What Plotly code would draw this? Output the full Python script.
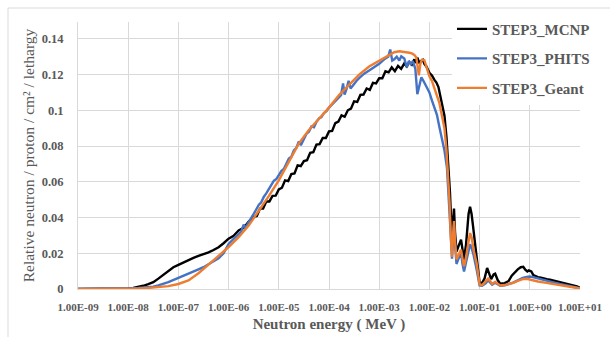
import plotly.graph_objects as go

# ---------------- data ----------------
x_tick_vals = [1e-9, 1e-8, 1e-7, 1e-6, 1e-5, 1e-4, 1e-3, 1e-2, 1e-1, 1e0, 1e1]
x_tick_text = ["1.00E-09", "1.00E-08", "1.00E-07", "1.00E-06", "1.00E-05", "1.00E-04",
               "1.00E-03", "1.00E-02", "1.00E-01", "1.00E+00", "1.00E+01"]
y_tick_vals = [0, 0.02, 0.04, 0.06, 0.08, 0.1, 0.12, 0.14]
y_tick_text = ["0", "0.02", "0.04", "0.06", "0.08", "0.1", "0.12", "0.14"]

series_names = ["STEP3_MCNP", "STEP3_PHITS", "STEP3_Geant"]

# log10 of neutron energy (MeV) and relative flux
mcnp_log_e = [-9.0, -8.5, -8.2, -8.0, -7.9, -7.8, -7.7, -7.6, -7.5, -7.4, -7.3, -7.2, -7.1, -7.0,
              -6.9, -6.8, -6.7, -6.6, -6.5, -6.4, -6.3, -6.2, -6.1, -6.0, -5.9, -5.8, -5.7, -5.6,
              -5.5, -5.4375, -5.375, -5.3125, -5.25, -5.1875, -5.125, -5.0625, -5.0, -4.9375,
              -4.875, -4.8125, -4.75, -4.6875, -4.625, -4.5625, -4.5, -4.4375, -4.375, -4.3125,
              -4.25, -4.1875, -4.125, -4.0625, -4.0, -3.9375, -3.875, -3.8125, -3.75, -3.6875,
              -3.625, -3.5625, -3.5, -3.4375, -3.375, -3.3125, -3.25, -3.1875, -3.125, -3.0625,
              -3.0, -2.9375, -2.875, -2.8125, -2.75, -2.6875, -2.625, -2.5625, -2.5,
              -2.45, -2.4, -2.35, -2.3, -2.27, -2.24, -2.2, -2.17, -2.13, -2.1, -2.06, -2.0,
              -1.95, -1.9, -1.86, -1.82, -1.78, -1.74, -1.70, -1.66, -1.62, -1.59, -1.565,
              -1.545, -1.525, -1.51, -1.49, -1.46, -1.42, -1.37, -1.34, -1.31, -1.27, -1.22,
              -1.19, -1.16, -1.13, -1.09, -1.06, -1.02, -1.0, -0.95, -0.9, -0.85, -0.81, -0.77,
              -0.72, -0.69, -0.64, -0.59, -0.5, -0.42, -0.36, -0.3, -0.24, -0.18, -0.13, -0.09,
              -0.05, -0.02, 0.03, 0.07, 0.12, 0.16, 0.22, 0.28, 0.34, 0.4, 0.47, 0.54, 0.62,
              0.7, 0.78, 0.86, 0.94, 1.0]
mcnp_flux = [0, 0, 0.0001, 0.0003, 0.0006, 0.001, 0.0018, 0.0027, 0.0038, 0.0058, 0.008, 0.0102,
             0.0122, 0.0135, 0.0148, 0.0165, 0.0174, 0.0185, 0.0194, 0.0205, 0.0218, 0.0234,
             0.0256, 0.0282, 0.0298, 0.0328, 0.0342, 0.0378,
             0.0403, 0.0408, 0.0450, 0.0450, 0.0490, 0.0490, 0.0521, 0.0522, 0.0557, 0.0567,
             0.0608, 0.0604, 0.0643, 0.0647, 0.0692, 0.0688, 0.0716, 0.0721, 0.0762, 0.0765,
             0.0808, 0.0811, 0.0845, 0.0845, 0.0882, 0.0885, 0.0928, 0.0937, 0.0972, 0.0964,
             0.1000, 0.1009, 0.1050, 0.1047, 0.1086, 0.1088, 0.1122, 0.1114, 0.1153, 0.1150,
             0.1180, 0.1179, 0.1218, 0.1212, 0.1240, 0.1219, 0.1248, 0.1232, 0.1262,
             0.1245, 0.1270, 0.1255, 0.1285, 0.1265, 0.1295, 0.1262, 0.1275, 0.1282, 0.1260,
             0.1245, 0.1210, 0.1195, 0.1170, 0.1155, 0.1130, 0.1080, 0.1020, 0.0970, 0.0850,
             0.0680, 0.0540, 0.0360, 0.0260, 0.0400, 0.0450, 0.0320, 0.0210, 0.0240, 0.0276,
             0.0220, 0.0165, 0.0250, 0.0420, 0.0460, 0.0420, 0.0350, 0.0250, 0.0165, 0.0070,
             0.0035, 0.0033, 0.0060, 0.0118, 0.0090, 0.0055, 0.0082, 0.0086, 0.0050, 0.0030,
             0.0033, 0.0045, 0.0075, 0.0095, 0.0110, 0.0122, 0.0124, 0.0108, 0.0098, 0.0104,
             0.0098, 0.0078, 0.0072, 0.0066, 0.0064, 0.0058, 0.0055, 0.0052, 0.0047, 0.0043,
             0.0038, 0.0032, 0.0027, 0.0021, 0.0015, 0.0006]

phits_log_e = [-9.0, -8.5, -8.2, -8.0, -7.8, -7.6, -7.5, -7.4, -7.2, -7.0, -6.9, -6.8, -6.7,
               -6.6, -6.5, -6.4, -6.3, -6.2, -6.1, -6.0, -5.9, -5.8, -5.75, -5.7, -5.66, -5.6,
               -5.55, -5.5, -5.45, -5.4, -5.35, -5.3, -5.25, -5.2, -5.15, -5.1, -5.05, -5.0,
               -4.95, -4.9, -4.85, -4.8, -4.75, -4.7, -4.65, -4.6, -4.56, -4.5, -4.45, -4.4,
               -4.35, -4.3, -4.25, -4.2, -4.15, -4.1, -4.05, -4.0, -3.95, -3.9, -3.85, -3.8,
               -3.76, -3.72, -3.69, -3.65, -3.61, -3.57, -3.5, -3.45, -3.4, -3.3, -3.2, -3.1,
               -3.0, -2.9, -2.82, -2.78, -2.74, -2.7, -2.65, -2.6, -2.56, -2.5, -2.45, -2.41,
               -2.37, -2.33, -2.28, -2.24, -2.2, -2.16, -2.12, -2.05, -2.0, -1.95, -1.9, -1.85,
               -1.8, -1.75, -1.7, -1.65, -1.6, -1.57, -1.55, -1.525, -1.51, -1.49, -1.46, -1.42,
               -1.37, -1.34, -1.31, -1.27, -1.22, -1.19, -1.16, -1.12, -1.06, -1.02, -1.0,
               -0.95, -0.88, -0.83, -0.79, -0.75, -0.69, -0.64, -0.59, -0.5, -0.4, -0.33, -0.24,
               -0.14, -0.06, 0.0, 0.06, 0.16, 0.3, 0.45, 0.6, 0.74, 0.86, 1.0]
phits_flux = [0, 0, 0.0001, 0.0003, 0.0006, 0.0011, 0.0013, 0.0020, 0.0038, 0.0062, 0.0075,
              0.0088, 0.0098, 0.0110, 0.0122, 0.0138, 0.0152, 0.0172, 0.0200, 0.0252, 0.0280,
              0.0310, 0.0320, 0.0360, 0.0342, 0.0375, 0.0395, 0.0420, 0.0445, 0.0470, 0.0485,
              0.0515, 0.0535, 0.0560, 0.0580, 0.0605, 0.0615, 0.0635, 0.0660, 0.0672, 0.0700,
              0.0730, 0.0740, 0.0775, 0.0790, 0.0825, 0.0805, 0.0845, 0.0868, 0.0880, 0.0910,
              0.0905, 0.0935, 0.0955, 0.0962, 0.0985, 0.0995, 0.1015, 0.1030, 0.1045, 0.1060,
              0.1078, 0.1085, 0.1150, 0.1088, 0.1120, 0.1165, 0.1122, 0.1150, 0.1165, 0.1180,
              0.1205, 0.1222, 0.1240, 0.1260, 0.1285, 0.1300, 0.1340, 0.1278, 0.1285, 0.1300,
              0.1278, 0.1302, 0.1290, 0.1240, 0.1275, 0.1258, 0.1275, 0.1232, 0.1090, 0.1135,
              0.1185, 0.1165, 0.1125, 0.1100, 0.1055, 0.1010, 0.0975, 0.0905, 0.0845, 0.0775,
              0.0680, 0.0460, 0.0280, 0.0170, 0.0300, 0.0360, 0.0250, 0.0140, 0.0170, 0.0200,
              0.0140, 0.0098, 0.0150, 0.0220, 0.0250, 0.0230, 0.0190, 0.0110, 0.0050, 0.0020,
              0.0018, 0.0032, 0.0048, 0.0038, 0.0024, 0.0035, 0.0028, 0.0018, 0.0020, 0.0027,
              0.0036, 0.0048, 0.0062, 0.0068, 0.0070, 0.0066, 0.0058, 0.0048, 0.0038, 0.0028,
              0.0020, 0.0013, 0.0004]

geant_log_e = [-9.0, -8.5, -8.2, -8.0, -7.8, -7.6, -7.4, -7.2, -7.0, -6.8, -6.6, -6.4, -6.2,
               -6.0, -5.8, -5.6, -5.4, -5.2, -5.0, -4.8, -4.6, -4.4, -4.2, -4.0, -3.8, -3.6,
               -3.4, -3.2, -3.0, -2.9, -2.8, -2.7, -2.6, -2.5, -2.4, -2.35, -2.3, -2.26, -2.23,
               -2.21, -2.18, -2.15, -2.1, -2.05, -2.0, -1.95, -1.9, -1.85, -1.8, -1.75, -1.7,
               -1.66, -1.63, -1.6, -1.575, -1.55, -1.525, -1.51, -1.49, -1.46, -1.42, -1.37,
               -1.34, -1.31, -1.27, -1.22, -1.19, -1.16, -1.12, -1.06, -1.02, -1.0, -0.95,
               -0.88, -0.83, -0.79, -0.75, -0.69, -0.64, -0.59, -0.5, -0.4, -0.33, -0.24,
               -0.14, -0.06, 0.0, 0.06, 0.16, 0.3, 0.45, 0.6, 0.74, 0.86, 1.0]
geant_flux = [0, 0, 0.0001, 0.0002, 0.0003, 0.0006, 0.0010, 0.0016, 0.0028, 0.0048, 0.0088,
              0.0135, 0.0185, 0.0235, 0.0290, 0.0355, 0.0435, 0.0520, 0.0608, 0.0715, 0.0815,
              0.0890, 0.0950, 0.1015, 0.1085, 0.1145, 0.1200, 0.1245, 0.1278, 0.1295, 0.1310,
              0.1325, 0.1330, 0.1328, 0.1322, 0.1318, 0.1310, 0.1295, 0.1240, 0.1195, 0.1260,
              0.1282, 0.1280, 0.1235, 0.1190, 0.1165, 0.1120, 0.1080, 0.1040, 0.0970, 0.0900,
              0.0780, 0.0660, 0.0490, 0.0300, 0.0180, 0.0320, 0.0380, 0.0270, 0.0165, 0.0190,
              0.0220, 0.0170, 0.0127, 0.0180, 0.0280, 0.0313, 0.0290, 0.0220, 0.0146, 0.0060,
              0.0025, 0.0022, 0.0040, 0.0058, 0.0045, 0.0028, 0.0040, 0.0032, 0.0020, 0.0022,
              0.0028, 0.0035, 0.0045, 0.0055, 0.0057, 0.0052, 0.0048, 0.0042, 0.0036, 0.0028,
              0.0020, 0.0015, 0.0010, 0.0003]

series_colors = ["#000000", "#4472C4", "#ED7D31"]

# ---------------- figure ----------------
FONT = "Liberation Serif"
GRAY = "#595959"
GRID = "#d9d9d9"

fig = go.Figure()
for name, log_e, flux, color in zip(series_names,
                                    [mcnp_log_e, phits_log_e, geant_log_e],
                                    [mcnp_flux, phits_flux, geant_flux],
                                    series_colors):
    fig.add_trace(go.Scatter(
        x=[10 ** v for v in log_e], y=flux, mode="lines", name=name,
        legendgroup=name,
        line=dict(color=color, width=2.4),
    ))

fig.update_layout(
    width=610, height=337,
    margin=dict(l=78, r=30, t=22, b=48),
    paper_bgcolor="white", plot_bgcolor="white",
    showlegend=True,
    legend=dict(
        x=(452 - 78) / 502, xanchor="left",
        y=1.035, yanchor="top",
        bgcolor="white",
        font=dict(family=FONT, size=15, color=GRAY, weight="bold"),
        tracegroupgap=7,
        itemwidth=30,
    ),
    xaxis=dict(
        type="log", range=[-9, 1], automargin=False,
        tickvals=x_tick_vals, ticktext=x_tick_text,
        tickfont=dict(family=FONT, size=11, color=GRAY, weight="bold"),
        showgrid=True, gridcolor=GRID, gridwidth=1,
        showline=True, linecolor=GRID, linewidth=1,
        ticks="", ticklabelstandoff=8,
        zeroline=False,
        title=dict(text="Neutron energy ( MeV )", standoff=6,
                   font=dict(family=FONT, size=15, color=GRAY, weight="bold")),
    ),
    yaxis=dict(
        range=[0, 0.1494], automargin=False,
        tickvals=y_tick_vals, ticktext=y_tick_text,
        tickfont=dict(family=FONT, size=12.5, color=GRAY, weight="bold"),
        showgrid=True, gridcolor=GRID, gridwidth=1,
        showline=True, linecolor=GRID, linewidth=1,
        ticks="", ticklabelstandoff=11,
        zeroline=False,
        title=dict(text="Relative neutron / proton / cm² / lethargy", standoff=3,
                   font=dict(family=FONT, size=15.5, color=GRAY)),
    ),
)

# chart-area border (visible left and top edges)
fig.add_shape(type="line", xref="paper", yref="paper",
              x0=(8 - 78) / 502, x1=(8 - 78) / 502, y0=(289 - 8) / 267, y1=(289 - 340) / 267,
              line=dict(color=GRID, width=1))
fig.add_shape(type="line", xref="paper", yref="paper",
              x0=(8 - 78) / 502, x1=(612 - 78) / 502, y0=(289 - 8) / 267, y1=(289 - 8) / 267,
              line=dict(color=GRID, width=1))

fig.write_html("out.html")
